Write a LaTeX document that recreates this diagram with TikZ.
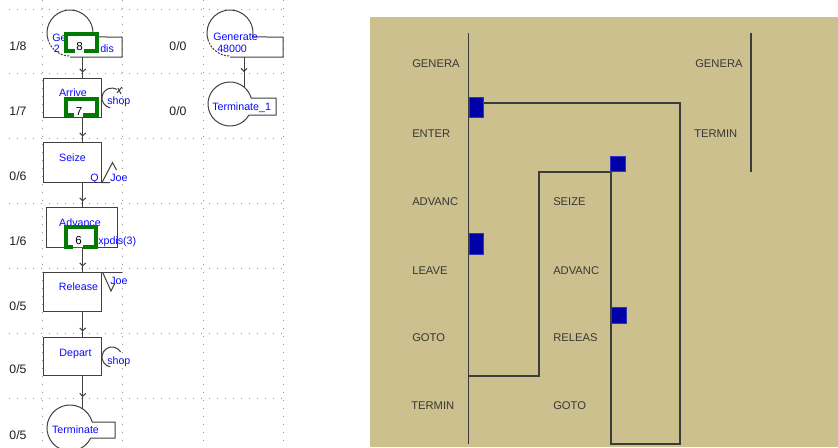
\documentclass[tikz,border=0pt]{standalone}
\usepackage{fontspec}
\setmainfont{Liberation Sans}
\usetikzlibrary{arrows.meta,decorations.markings,calc}
\definecolor{panelbg}{RGB}{204,192,142}
\definecolor{linegray}{RGB}{64,64,64}
\definecolor{gridgray}{RGB}{150,150,150}
\definecolor{cntgray}{RGB}{30,30,30}
\definecolor{trgray}{RGB}{55,55,55}
\definecolor{trlinec}{RGB}{60,60,60}
\definecolor{gfgreen}{RGB}{0,122,0}
\definecolor{sqblue}{RGB}{0,0,168}
\definecolor{sqedge}{RGB}{50,50,190}
\definecolor{labblue}{RGB}{10,10,255}
\begin{document}
\begin{tikzpicture}[x=0.75pt,y=-0.75pt,
  blk/.style={draw=linegray,line width=0.75pt,fill=white,rectangle,inner sep=0pt},
  shp/.style={draw=linegray,line width=0.75pt},
  shpd/.style={draw=linegray,line width=0.75pt,dash pattern=on 1.5pt off 1pt},
  griddot/.style={draw=gridgray,line width=0.75pt,dash pattern=on 0.75pt off 5.25pt},
  cnt/.style={font=\fontsize{9.2}{10}\selectfont,text=cntgray,anchor=base,inner sep=0pt},
  blab/.style={font=\fontsize{8}{9}\selectfont,text=labblue,anchor=base,inner sep=0pt},
  blabw/.style={blab,anchor=base west},
  dig/.style={font=\fontsize{8.7}{9}\selectfont,text=black,anchor=base,inner sep=0pt},
  gframe/.style={draw=gfgreen,line width=3pt,fill=white},
  trlab/.style={font=\fontsize{8.4}{9}\selectfont,text=trgray,anchor=base west,inner sep=0pt},
  trline/.style={draw=trlinec,line width=1pt},
  sq/.style={fill=sqblue,draw=sqedge,line width=0.4pt},
  conn/.style={draw=linegray,line width=0.75pt,postaction={decorate},
    decoration={markings,mark=at position -#1 with {\arrow{Straight Barb[length=2.2pt,width=4.5pt]}}}}
]
\useasboundingbox (0,0) rectangle (838,447);
\clip (0,0) rectangle (838,447);
\fill[white] (0,0) rectangle (838,447);

% ---------- left panel: dotted grid ----------
\foreach \gy in {9,73,138,203,268,333,398} \draw[griddot] (9,\gy) -- (286,\gy);
\foreach \gx in {42,122,203,283} \draw[griddot] (\gx,0) -- (\gx,447);

% ---------- left panel: blocks ----------
\node[blk,minimum width=43.5pt,minimum height=29.25pt] (arr) at (72,97.5) {};
\node[blk,minimum width=43.5pt,minimum height=30pt] (sei) at (72,162) {};
\node[blk,minimum width=53.25pt,minimum height=30pt] (adv) at (81.5,227) {};
\node[blk,minimum width=43.5pt,minimum height=29.25pt] (rel) at (72,291.5) {};
\node[blk,minimum width=43.5pt,minimum height=28.5pt] (dep) at (72,356) {};

% Generate (left)
\coordinate (g1) at (70,33);
\coordinate (g1o) at (82.7,57);
\draw[shp] ($(g1)+(160:23)$) arc[start angle=160,end angle=370,radius=23] -- (122,37) -- (122,57) -- (70,57);
\draw[shpd] ($(g1)+(92:23)$) arc[start angle=92,end angle=160,radius=23];

% Generate (right)
\coordinate (g2) at (230,33);
\coordinate (g2o) at (244,57);
\draw[shp] ($(g2)+(160:23)$) arc[start angle=160,end angle=370,radius=23] -- (283,37) -- (283,57) -- (230,57);
\draw[shpd] ($(g2)+(92:23)$) arc[start angle=92,end angle=160,radius=23];

% Terminate_1 (right)
\coordinate (t2) at (230,104);
\coordinate (t2in) at (244,87);
\draw[shp] ($(t2)+(30:22)$) arc[start angle=30,end angle=344.2,radius=22] -- (276,98) -- (276,115) -- cycle;

% Terminate (bottom left)
\coordinate (t1) at (70,428);
\coordinate (t1in) at (82.7,409);
\draw[shp] ($(t1)+(25.8:23)$) arc[start angle=25.8,end angle=344.9,radius=23] -- (115,422) -- (115,438) -- cycle;

% small facility / storage marks
\coordinate (as) at (112,98);
\draw[shp] ($(as)+(100:10)$) arc[start angle=100,end angle=300,radius=10];
\draw[shp] (117,93) -- (122,87);
\draw[shp] (118,88) -- (121,94);
\coordinate (ds) at (112,357);
\draw[shp] ($(ds)+(100:10)$) arc[start angle=100,end angle=330,radius=10];
\draw[shp] (110,182.5) -- (102,182.5) -- (112.5,162.5) -- (116.5,170);
\draw[shp] (101,272) -- (122,272);
\draw[shp] (102.5,272) -- (111,291) -- (115,283);

% connectors
\draw[conn=3.75pt] (g1o) -- (g1o |- arr.north);
\draw[conn=3.75pt] (arr.south -| g1o) -- (sei.north -| g1o);
\draw[conn=3.75pt] (sei.south -| g1o) -- (adv.north -| g1o);
\draw[conn=3.75pt] (adv.south -| g1o) -- (rel.north -| g1o);
\draw[conn=3.75pt] (rel.south -| g1o) -- (dep.north -| g1o);
\draw[conn=9pt] (dep.south -| g1o) -- (t1in);
\draw[conn=11.25pt] (g2o) -- (t2in);

% blue labels
\node[blabw] (lge) at (52,41) {Ge};
\node[blabw] (l2) at (53.5,52) {2};
\node[blabw] (ldis) at (100,52) {dis};
\node[blab] (larr) at (73,96) {Arrive};
\node[blabw] (lsh1) at (107,104) {shop};
\node[blab] (lsei) at (72.5,161) {Seize};
\node[blabw] (lq) at (90,181) {Q};
\node[blabw] (lj1) at (110,181) {Joe};
\node[blab] (ladv) at (80,226) {Advance};
\node[blabw] (lxp) at (98,244) {xpdis(3)};
\node[blab] (lrel) at (78.5,290) {Release};
\node[blabw] (lj2) at (110,284) {Joe};
\node[blab] (ldep) at (75.5,356) {Depart};
\node[blabw] (lsh2) at (107,364) {shop};
\node[blab] (lter) at (75.5,433) {Terminate};
\node[blabw] (lgen) at (213,40) {Generate};
\node[blabw] (l48) at (217,52) {48000};
\node[blabw] (lt1) at (212,110) {Terminate\_1};

% green count frames
\draw[gframe] (75,51) -- (66,51) -- (66,34) -- (97,34) -- (97,51) -- (84,51);
\draw[gframe] (74,115) -- (65.5,115) -- (65.5,99) -- (97,99) -- (97,115) -- (83,115);
\draw[gframe] (73,247) -- (66,247) -- (66,227) -- (96,227) -- (96,247) -- (83,247);
\node[dig] (d8) at (79.5,50) {8};
\node[dig] (d7) at (79,115) {7};
\node[dig] (d6) at (78.5,244) {6};

% counts
\node[cnt] (c1) at (18,50) {1/8};
\node[cnt] (c2) at (18,115) {1/7};
\node[cnt] (c3) at (18,180) {0/6};
\node[cnt] (c4) at (18,245) {1/6};
\node[cnt] (c5) at (18,310) {0/5};
\node[cnt] (c6) at (18,373) {0/5};
\node[cnt] (c7) at (18,439) {0/5};
\node[cnt] (c8) at (178,50) {0/0};
\node[cnt] (c9) at (178,115) {0/0};

% ---------- right panel ----------
\fill[panelbg] (370,17) rectangle (838,447);
\draw[trline] (468.5,33) -- (468.5,444);
\draw[trline] (751,33) -- (751,172);
\draw[trline] (468.5,103) -- (680,103) -- (680,444) -- (611,444) -- (611,172) -- (539,172) -- (539,376) -- (468.5,376);
\draw[sq] (469,97.7) rectangle (483.7,117.3);
\draw[sq] (610.5,156.3) rectangle (625.7,171.7);
\draw[sq] (469,233.3) rectangle (483.7,254.3);
\draw[sq] (611.5,307.7) rectangle (626,323.3);

\node[trlab] (r1) at (412,67) {GENERA};
\node[trlab] (r2) at (412,137) {ENTER};
\node[trlab] (r3) at (412,205) {ADVANC};
\node[trlab] (r4) at (412,274) {LEAVE};
\node[trlab] (r5) at (412,341) {GOTO};
\node[trlab] (r6) at (411,409) {TERMIN};
\node[trlab] (r7) at (553,205) {SEIZE};
\node[trlab] (r8) at (553,274) {ADVANC};
\node[trlab] (r9) at (553,341) {RELEAS};
\node[trlab] (r10) at (553,409) {GOTO};
\node[trlab] (r11) at (695,67) {GENERA};
\node[trlab] (r12) at (694,137) {TERMIN};
\end{tikzpicture}
\end{document}
